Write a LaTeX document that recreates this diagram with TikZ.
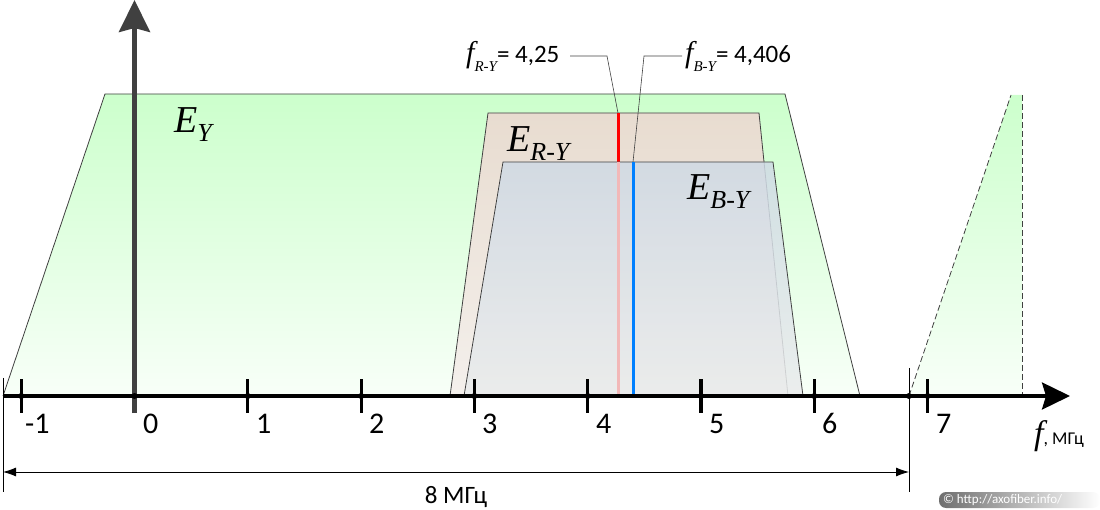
\documentclass[tikz,border=0pt]{standalone}
\usepackage{fontspec}
\setmainfont{Carlito}
\newfontfamily\tnr{Liberation Serif}
\usetikzlibrary{arrows.meta}
\definecolor{gtop}{RGB}{204,255,204}
\definecolor{gbot}{RGB}{248,255,248}
\definecolor{rtopc}{RGB}{232,220,208}
\definecolor{rbotc}{RGB}{244,240,236}
\definecolor{btopc}{RGB}{207,218,229}
\definecolor{bbotc}{RGB}{234,236,236}
\definecolor{outl}{RGB}{64,64,64}
\definecolor{redl}{RGB}{255,0,0}
\definecolor{bluel}{RGB}{0,128,255}
\definecolor{pinkl}{RGB}{242,184,184}
\definecolor{wmark}{RGB}{110,110,110}
\newcommand\Esb[1]{\raisebox{-0.22em}{\fontsize{26}{26}\selectfont #1}}
\newcommand\fsb[1]{\raisebox{-0.3em}{\fontsize{15}{15}\selectfont #1}}
\begin{document}
\begin{tikzpicture}[x=1pt,y=-1pt,
  outline/.style={draw=outl,line width=0.8pt},
  tickmark/.style={line width=3.2pt,black},
  axislabel/.style={anchor=base west,inner sep=0pt,font=\fontsize{30}{30}\selectfont},
  elabel/.style={anchor=base west,inner sep=0pt,font=\tnr\itshape\fontsize{38}{38}\selectfont},
  flabel/.style={anchor=base west,inner sep=0pt,font=\fontsize{25}{25}\selectfont},
  leader/.style={draw=outl,line width=0.6pt},
  dimline/.style={line width=0.8pt,black}]
\useasboundingbox (0,0) rectangle (1100,510);
% green spectrum E_Y
\shade[top color=gtop,bottom color=gbot] (3,396) -- (105,94) -- (785,94) -- (860,396) -- cycle;
\draw[outline] (3,396) -- (105,94) -- (785,94) -- (860,396);
% repeated spectrum (dashed)
\shade[top color=gtop,bottom color=gbot] (909,396) -- (1011,95) -- (1022,95) -- (1022,396) -- cycle;
\draw[outline,dash pattern=on 6pt off 3pt] (909,396) -- (1011,95);
\draw[outline,dash pattern=on 6pt off 3pt] (1022,95) -- (1022,396);
% E_R-Y
\shade[top color=rtopc,bottom color=rbotc] (450,396) -- (488,113) -- (759,113) -- (788,396) -- cycle;
\draw[outline] (450,396) -- (488,113) -- (759,113) -- (788,396);
% red line
\coordinate (rtop) at (618,113);
\coordinate (rmid) at (618,162);
\coordinate (rbot) at (618,396);
\draw[redl,line width=3pt] (rtop) -- (rmid);
% E_B-Y
\shade[top color=btopc,bottom color=bbotc,opacity=0.85] (464,396) -- (503,162) -- (773,162) -- (803,396) -- cycle;
\draw[outline] (464,396) -- (503,162) -- (773,162) -- (803,396);
\draw[pinkl,line width=3pt] (rmid) -- (rbot);
% blue line
\coordinate (btop) at (633,162);
\coordinate (bbot) at (633,396);
\draw[bluel,line width=3pt] (btop) -- (bbot);
% vertical axis
\coordinate (vB) at (134.5,413);
\coordinate (vT) at (134.5,0);
\draw[draw=outl,line width=4.5pt,-{Stealth[length=32pt,width=31pt,inset=4pt]}] (vB) -- (vT);
% horizontal axis
\coordinate (axL) at (3,396);
\coordinate (axR) at (1070,396);
\draw[line width=3.2pt,-{Stealth[length=28pt,width=27pt,inset=4pt]}] (axL) -- (axR);
% ticks
\foreach \x in {21.2,247.8,361.1,474.4,587.7,701,814.3,927.6}{
  \draw[tickmark] (\x,379) -- (\x,413);
}
\foreach \x in {21.2,134.5,247.8,361.1,474.4,587.7,701,814.3,909,927.6}{
  \fill (\x,396) circle (3pt);
}
\draw[draw=outl,line width=4.5pt] (134.5,399) -- (134.5,413);
% tick labels
\node[axislabel] (lm1) at (25,433) {-1};
\node[axislabel] (l0) at (143,433) {0};
\node[axislabel] (l1) at (256,433) {1};
\node[axislabel] (l2) at (369,433) {2};
\node[axislabel] (l3) at (482,433) {3};
\node[axislabel] (l4) at (596,433) {4};
\node[axislabel] (l5) at (709,433) {5};
\node[axislabel] (l6) at (822,433) {6};
\node[axislabel] (l7) at (936,433) {7};
% axis name
\node[anchor=base west,inner sep=0pt] (fax) at (1034,444) {{\tnr\itshape\fontsize{34}{34}\selectfont f}{\fontsize{18}{18}\selectfont, МГц}};
% dimension 8 MHz
\coordinate (eL1) at (3,378);
\coordinate (eL2) at (3,492);
\coordinate (eR1) at (909,368);
\coordinate (eR2) at (909,492);
\draw[dimline] (eL1) -- (eL2);
\draw[dimline] (eR1) -- (eR2);
\coordinate (dL) at (3,472);
\coordinate (dR) at (909,472);
\draw[dimline,{Latex[length=13pt,width=9pt]}-{Latex[length=13pt,width=9pt]}] (dL) -- (dR);
\node[anchor=base,inner sep=0pt,font=\fontsize{25}{25}\selectfont] (dim) at (456,503) {8 МГц};
% spectrum labels
\node[elabel] (ey) at (174,133) {E\Esb{Y}};
\node[elabel] (ery) at (507,152) {E\Esb{R-Y}};
\node[elabel] (eby) at (687,200) {E\Esb{B-Y}};
% frequency labels
\node[flabel] (fr) at (466,63) {{\tnr\itshape\fontsize{30}{30}\selectfont f\fsb{R-Y}}= 4,25};
\node[flabel] (fb) at (685,63) {{\tnr\itshape\fontsize{30}{30}\selectfont f\fsb{B-Y}}= 4,406};
\coordinate (frA) at (570,56);
\coordinate (frB) at (607,56);
\draw[leader] (frA) -- (frB) -- (rtop);
\coordinate (fbA) at (682,56);
\coordinate (fbB) at (644,56);
\draw[leader] (fbA) -- (fbB) -- (btop);
% watermark
\shade[left color=wmark,right color=white,rounded corners=7pt] (939,492) rectangle (1100,508);
\node[anchor=west,inner sep=0pt,text=white,font=\fontsize{13}{13}\selectfont] (wm) at (943,500) {© http://axofiber.info/};
\end{tikzpicture}
\end{document}
